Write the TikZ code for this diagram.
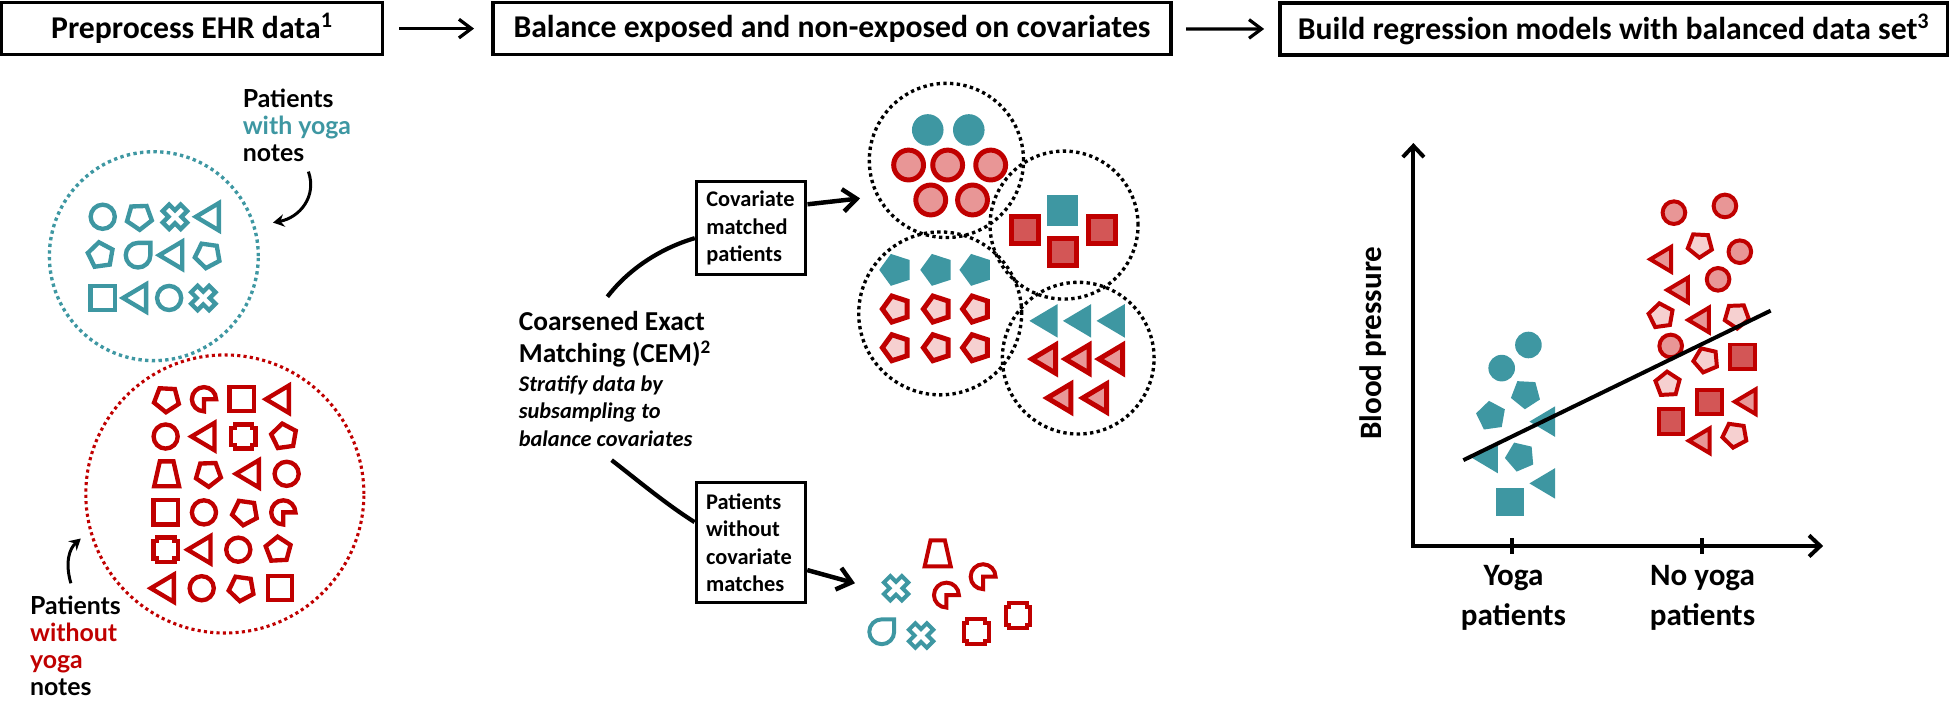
\documentclass[tikz,border=0pt]{standalone}
\usepackage{fontspec}
\setmainfont{Carlito}
\newfontfamily\handfont{Lato}
\usetikzlibrary{arrows.meta}
\definecolor{tealc}{RGB}{62,151,162}
\definecolor{redc}{RGB}{192,0,0}
\definecolor{pinkcirc}{RGB}{232,150,150}
\definecolor{pinksq}{RGB}{211,86,86}
\definecolor{pinkpent}{RGB}{246,208,208}
\definecolor{pinktri}{RGB}{232,152,152}
\newcommand{\putshape}[5]{\pic[#1,scale=#2] at (#3,#4) {#5};}
\tikzset{
 pics/pcirc/.style={code={\path[pic actions] (0,0) circle[radius=1];}},
 pics/psq/.style={code={\path[pic actions] (-1,-1) rectangle (1,1);}},
 pics/ptri/.style={code={\path[pic actions] (-1,0) -- (0.85,1.1) -- (0.85,-1.1) -- cycle;}},
 pics/ppent/.style={code={\path[pic actions] (180:1) -- (252:1) -- (324:1) -- (36:1) -- (108:1) -- cycle;}},
 pics/pcross/.style={code={\path[pic actions, rotate=45] (0.36,1) -- (0.36,0.36) -- (1,0.36) -- (1,-0.36) -- (0.36,-0.36) -- (0.36,-1) -- (-0.36,-1) -- (-0.36,-0.36) -- (-1,-0.36) -- (-1,0.36) -- (-0.36,0.36) -- (-0.36,1) -- cycle;}},
 pics/ppac/.style={code={\path[pic actions, yscale=-1] (0,0) -- (1,0) arc[start angle=0, end angle=270, radius=1] -- cycle;}},
 pics/ptear/.style={code={\path[pic actions, yscale=-1] (1,1) -- (1,0) arc[start angle=0, end angle=-270, radius=1] -- cycle;}},
 pics/poct/.style={code={\path[pic actions] (-0.72,-1) -- (0.72,-1) -- (0.72,-0.72) -- (1,-0.72) -- (1,0.72) -- (0.72,0.72) -- (0.72,1) -- (-0.72,1) -- (-0.72,0.72) -- (-1,0.72) -- (-1,-0.72) -- (-0.72,-0.72) -- cycle;}},
 pics/ptrap/.style={code={\path[pic actions, yscale=-1] (-0.55,1) -- (0.55,1) -- (1,-1) -- (-1,-1) -- cycle;}},
 tO/.style={draw=tealc, line width=3.5pt},
 rO/.style={draw=redc, line width=3.5pt},
 tF/.style={fill=tealc},
 rCi/.style={draw=redc, fill=pinkcirc, line width=4pt},
 rSq/.style={draw=redc, fill=pinksq, line width=4pt},
 rPe/.style={draw=redc, fill=pinkpent, line width=4pt},
 rTr/.style={draw=redc, fill=pinktri, line width=4pt},
 hdr/.style={draw, line width=2.6pt, minimum height=42pt, inner sep=0pt, font=\fontsize{25.5}{30}\selectfont\bfseries},
 cbox/.style={draw, line width=2.6pt, align=left, text width=72pt, inner xsep=8pt, inner ysep=0pt, font=\fontsize{18}{22}\selectfont\bfseries},
 harrow/.style={line width=2.6pt, -{Straight Barb[length=10pt,width=15pt]}},
 barrow/.style={line width=3.6pt, -{Straight Barb[length=11pt,width=18pt]}},
 hcurve/.style={line width=2.4pt, -{Stealth[length=9pt,width=10pt]}},
 bigcurve/.style={line width=3.4pt},
 tdot/.style={circle, draw=tealc, line width=2.7pt, dash pattern=on 2.7pt off 2.7pt, inner sep=0pt},
 rdot/.style={circle, draw=redc, line width=2.5pt, dash pattern=on 2.5pt off 2.6pt, inner sep=0pt},
 kdot/.style={circle, draw=black, line width=2.7pt, dash pattern=on 2.7pt off 2.7pt, inner sep=0pt},
 handtext/.style={align=left, inner sep=0pt, font=\handfont\bfseries\fontsize{20}{21.7}\selectfont},
 plotlab/.style={inner sep=0pt, font=\fontsize{25}{32}\selectfont\bfseries},
 axisline/.style={line width=3.2pt},
}
\begin{document}
\begin{tikzpicture}[x=1pt,y=-1pt]
\useasboundingbox (0,0) rectangle (1568,563);
% headers
\node[hdr, minimum width=306.6pt] (h1) at (154.3,23) {Preprocess EHR data\textsuperscript{1}};
\node[hdr, minimum width=545pt] (h2) at (669,23) {Balance exposed and non-exposed on covariates};
\node[hdr, minimum width=537pt, line width=3pt] (h3) at (1297.5,23.5) {Build regression models with balanced data set\textsuperscript{3}};
\draw[harrow, shorten <=12pt, shorten >=14pt] (h1) -- (h2);
\draw[harrow, shorten <=11pt, shorten >=11pt] (h2) -- (h3);

% left panel
\node[tdot, minimum size=168pt] (gyoga) at (123.7,206) {};
\node[rdot, minimum size=223.6pt] (gnoyoga) at (180.8,397.2) {};
\node[handtext, anchor=west] (hand1) at (195,101) {Patients\\\textcolor{tealc}{with yoga}\\notes};
\node[handtext, anchor=west] (hand2) at (24,519) {Patients\\\textcolor{redc}{without}\\\textcolor{redc}{yoga}\\notes};
\coordinate (ha1s) at (248,138);
\coordinate (ha1e) at (219.5,179);
\draw[hcurve] (ha1s) .. controls (255,158) and (241,175) .. (ha1e);
\coordinate (ha2s) at (57,469);
\coordinate (ha2e) at (65,433);
\draw[hcurve] (ha2s) .. controls (52,452) and (56,441) .. (ha2e);

\putshape{tO}{9.7}{82.6}{174.3}{pcirc}
\putshape{tO,rotate=20}{10.5}{112}{174.3}{ppent}
\putshape{tO}{10.2}{140.7}{174.3}{pcross}
\putshape{tO}{10}{167.5}{174.3}{ptri}
\putshape{tO,rotate=-10}{10.5}{81}{205.2}{ppent}
\putshape{tO}{9.9}{111}{205.2}{ptear}
\putshape{tO}{10}{138}{205.2}{ptri}
\putshape{tO,rotate=10}{10.5}{167}{205.2}{ppent}
\putshape{tO}{9.7}{82.6}{239.6}{psq}
\putshape{tO}{10}{109}{239.6}{ptri}
\putshape{tO}{9.7}{136}{239.6}{pcirc}
\putshape{tO}{10.2}{163.5}{239.6}{pcross}

\putshape{rO,rotate=15}{10.5}{134}{321}{ppent}
\putshape{rO}{9.7}{164}{321}{ppac}
\putshape{rO}{9.7}{194.3}{321}{psq}
\putshape{rO}{10}{223.8}{321}{ptri}
\putshape{rO}{9.7}{133.2}{351}{pcirc}
\putshape{rO}{10}{164}{351}{ptri}
\putshape{rO}{9.7}{195.7}{351}{poct}
\putshape{rO,rotate=-10}{10.5}{228.4}{351}{ppent}
\putshape{rO}{10}{134}{381}{ptrap}
\putshape{rO,rotate=20}{10.5}{167.5}{381}{ppent}
\putshape{rO}{10}{199.7}{381}{ptri}
\putshape{rO}{9.7}{230.5}{381}{pcirc}
\putshape{rO}{9.7}{133.2}{412}{psq}
\putshape{rO}{9.7}{164}{412}{pcirc}
\putshape{rO,rotate=10}{10.5}{197}{412}{ppent}
\putshape{rO}{9.7}{227.8}{412}{ppac}
\putshape{rO}{9.7}{133.2}{442}{poct}
\putshape{rO}{10}{160.8}{442}{ptri}
\putshape{rO}{9.7}{191.6}{442}{pcirc}
\putshape{rO,rotate=-15}{10.5}{223.8}{442}{ppent}
\putshape{rO}{10}{131.3}{473}{ptri}
\putshape{rO}{9.7}{162.2}{473}{pcirc}
\putshape{rO,rotate=10}{10.5}{194.3}{473}{ppent}
\putshape{rO}{9.7}{225.2}{473}{psq}

% middle panel
\node[anchor=north west, align=left, inner sep=0pt, font=\fontsize{22}{26}\selectfont\bfseries] (cem) at (417,250)
 {Coarsened Exact\\Matching (CEM)\textsuperscript{2}};
\node[anchor=north west, align=left, inner sep=0pt, font=\fontsize{18}{22}\selectfont\bfseries\itshape] (cemsub) at (417,302)
 {Stratify data by\\subsampling to\\balance covariates};
\node[cbox, minimum height=75pt] (box1) at (604,183.5) {Covariate\\matched\\patients};
\node[cbox, minimum height=96.6pt] (box2) at (603.8,436.3) {Patients\\without\\covariate\\matches};
\coordinate (c1) at (488.4,238.6);
\coordinate (c2) at (491.8,370);
\draw[bigcurve] (c1) .. controls (505,217) and (530,200) .. (box1.190);
\draw[bigcurve] (c2) .. controls (510,384) and (535,405) .. (box2.160);
\coordinate (tip1) at (691.6,159.5);
\coordinate (tip2) at (687.5,469);
\draw[barrow] (box1.23) -- (tip1);
\draw[barrow] (box2.-26) -- (tip2);

\node[kdot, minimum size=124pt] (cl1) at (761,129) {};
\node[kdot, minimum size=131pt] (cl2) at (756,252) {};
\node[kdot, minimum size=119pt] (cl3) at (855.6,181) {};
\node[kdot, minimum size=122pt] (cl4) at (867,288) {};

\putshape{tF}{12.7}{746}{104.5}{pcirc}
\putshape{tF}{12.7}{779}{104.5}{pcirc}
\putshape{rCi}{12}{730.6}{132.7}{pcirc}
\putshape{rCi}{12}{762}{132.7}{pcirc}
\putshape{rCi}{12}{796.6}{132.7}{pcirc}
\putshape{rCi}{12}{748.4}{160.8}{pcirc}
\putshape{rCi}{12}{782}{160.8}{pcirc}

\putshape{tF}{13.5}{720.5}{217}{ppent}
\putshape{tF}{13.5}{753.5}{217}{ppent}
\putshape{tF}{13.5}{785}{217}{ppent}
\putshape{rPe}{11}{720.5}{248.5}{ppent}
\putshape{rPe}{11}{753.5}{248.5}{ppent}
\putshape{rPe}{11}{785}{248.5}{ppent}
\putshape{rPe}{11}{720.5}{279.6}{ppent}
\putshape{rPe}{11}{753.5}{279.6}{ppent}
\putshape{rPe}{11}{785}{279.6}{ppent}

\putshape{tF}{12.35}{854.5}{169.4}{psq}
\putshape{rSq}{10.75}{824}{185}{psq}
\putshape{rSq}{10.75}{886}{185}{psq}
\putshape{rSq}{10.75}{854.5}{202.4}{psq}

\putshape{tF}{12.3}{840}{258}{ptri}
\putshape{tF}{12.3}{867}{258}{ptri}
\putshape{tF}{12.3}{894}{258}{ptri}
\putshape{rTr}{10.3}{840}{288.7}{ptri}
\putshape{rTr}{10.3}{867}{288.7}{ptri}
\putshape{rTr}{10.3}{894}{288.7}{ptri}
\putshape{rTr}{10.3}{852.4}{320}{ptri}
\putshape{rTr}{10.3}{881}{320}{ptri}

\putshape{tO,line width=3.2pt}{10.2}{720.5}{473}{pcross}
\putshape{tO,line width=3.2pt}{10}{709}{508}{ptear}
\putshape{tO,line width=3.2pt}{10.2}{740.6}{511}{pcross}
\putshape{rO,line width=3.2pt}{10.5}{754}{445}{ptrap}
\putshape{rO,line width=3.2pt}{10}{790.5}{463.7}{ppac}
\putshape{rO,line width=3.2pt}{10}{761}{478.5}{ppac}
\putshape{rO,line width=3.2pt}{10}{818.6}{495}{poct}
\putshape{rO,line width=3.2pt}{10}{785}{508}{poct}

% right panel
\coordinate (O) at (1136.5,439);
\coordinate (Ytop) at (1136.5,115);
\coordinate (Xend) at (1466,439);
\draw[axisline, {Straight Barb[length=9pt,width=17pt]}-{Straight Barb[length=9pt,width=17pt]}] (Ytop) -- (O) -- (Xend);
\coordinate (t1a) at (1216,432.8);
\coordinate (t1b) at (1216,445.5);
\coordinate (t2a) at (1368.6,432.8);
\coordinate (t2b) at (1368.6,445.5);
\draw[axisline] (t1a) -- (t1b);
\draw[axisline] (t2a) -- (t2b);
\node[plotlab, rotate=90] (ylab) at (1104,276) {Blood pressure};
\node[plotlab, align=center] (xl1) at (1217,481) {Yoga\\patients};
\node[plotlab, align=center] (xl2) at (1369,481) {No yoga\\patients};

\putshape{tF}{10.7}{1229}{277.4}{pcirc}
\putshape{tF}{10.7}{1207.5}{296}{pcirc}
\putshape{tF,rotate=15}{12.3}{1226.8}{316.8}{ppent}
\putshape{tF,rotate=-10}{12.3}{1199}{334.5}{ppent}
\putshape{tF}{11.2}{1241}{339}{ptri}
\putshape{tF}{11.2}{1195}{368.3}{ptri}
\putshape{tF,rotate=5}{12.3}{1222.3}{367.2}{ppent}
\putshape{tF}{11.2}{1241}{388.7}{ptri}
\putshape{tF}{11.25}{1214.2}{403.4}{psq}

\putshape{rCi,line width=3.2pt}{9.1}{1346}{171}{pcirc}
\putshape{rCi,line width=3.2pt}{9.1}{1387}{165.6}{pcirc}
\putshape{rCi,line width=3.2pt}{9.1}{1399}{202.4}{pcirc}
\putshape{rCi,line width=3.2pt}{9.1}{1381.5}{224.6}{pcirc}
\putshape{rCi,line width=3.2pt}{9.1}{1343.4}{278.2}{pcirc}
\putshape{rPe,line width=3.2pt,rotate=15}{10.2}{1367}{197}{ppent}
\putshape{rPe,line width=3.2pt,rotate=-10}{10.2}{1335.7}{254}{ppent}
\putshape{rPe,line width=3.2pt,rotate=20}{10.2}{1396.5}{254}{ppent}
\putshape{rPe,line width=3.2pt,rotate=5}{10.2}{1371.8}{289.5}{ppent}
\putshape{rPe,line width=3.2pt,rotate=-15}{10.2}{1341}{309}{ppent}
\putshape{rPe,line width=3.2pt,rotate=10}{10.2}{1395}{349.8}{ppent}
\putshape{rTr,line width=3.2pt}{9}{1336}{208.5}{ptri}
\putshape{rTr,line width=3.2pt}{9}{1349.6}{233.2}{ptri}
\putshape{rTr,line width=3.2pt}{9}{1366.5}{257.3}{ptri}
\putshape{rTr,line width=3.2pt}{9}{1404}{323}{ptri}
\putshape{rTr,line width=3.2pt}{9}{1367}{354.4}{ptri}
\putshape{rSq,line width=3.2pt}{9.8}{1401}{286.8}{psq}
\putshape{rSq,line width=3.2pt}{9.8}{1374.5}{323}{psq}
\putshape{rSq,line width=3.2pt}{9.8}{1343.4}{339}{psq}

\coordinate (r1) at (1176.7,370);
\coordinate (r2) at (1423.8,249.8);
\draw[axisline] (r1) -- (r2);
\end{tikzpicture}
\end{document}
